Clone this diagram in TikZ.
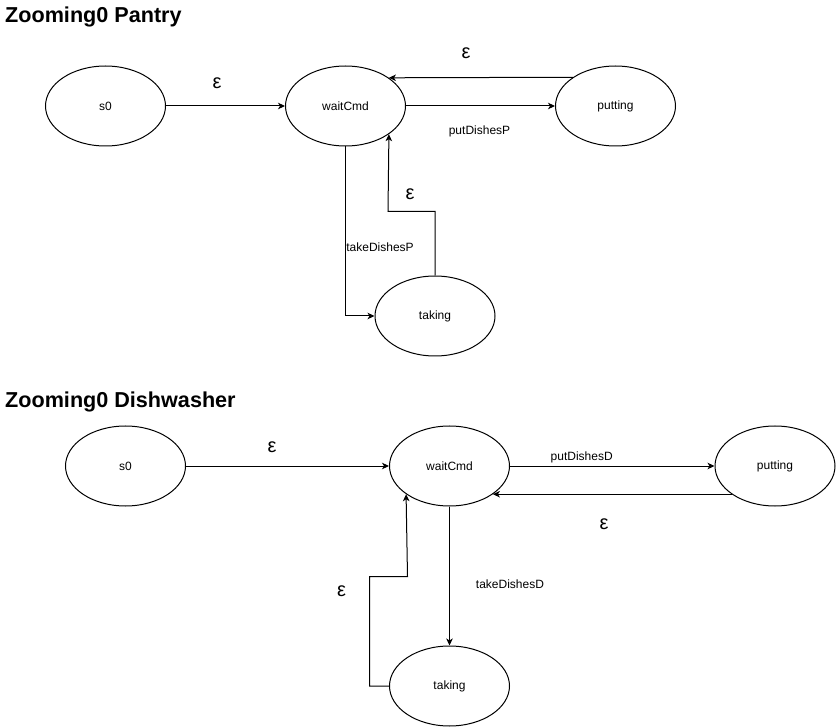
\documentclass[tikz,border=0pt]{standalone}
\usepackage{fontspec}
\setmainfont{Liberation Sans}
\usetikzlibrary{shapes.geometric,arrows.meta}
\begin{document}
\begin{tikzpicture}[x=1pt,y=-1pt,
  state/.style={draw,ellipse,line width=1pt,minimum width=120pt,minimum height=80pt,inner sep=0pt,font=\fontsize{12}{14}\selectfont},
  edge/.style={draw,line width=1pt,-{Stealth[length=7pt,width=6.5pt,inset=2pt]}},
  lab/.style={anchor=base,inner sep=0pt,font=\fontsize{12}{14}\selectfont},
  eps/.style={inner sep=0pt,font=\fontsize{20}{22}\selectfont},
  ttl/.style={anchor=base west,inner sep=0pt,font=\fontsize{21.6}{24}\selectfont\bfseries}]
\useasboundingbox[fill=white] (0,0) rectangle (836,727);

% ---- Pantry ----
\node[ttl] (t1) at (5,23) {Zooming0 Pantry};
\node[state] (s0a) at (105.5,106) {s0};
\node[state] (wa) at (345.5,106) {waitCmd};
\node[state] (pa) at (615.5,106) {putting};
\node[state] (ta) at (435,316) {taking};

\draw[edge] (s0a) -- (wa);
\draw[edge] (wa) -- (pa);
\draw[edge] (pa.146.6) -- (wa.33.4);
\draw[edge] (wa.south) |- (ta.west);
\coordinate (ka) at (388,211.5);
\draw[edge] (ta.north) |- (ka) -- (wa.-33.4);

\node[eps] (e1) at (217,83) {ε};
\node[eps] (e2) at (466,53.5) {ε};
\node[eps] (e3) at (410,194) {ε};
\node[lab] (l1) at (479.5,134.6) {putDishesP};
\node[lab] (l2) at (380,252) {takeDishesP};

% ---- Dishwasher ----
\node[ttl] (t2) at (5,408) {Zooming0 Dishwasher};
\node[state] (s0b) at (125.5,466) {s0};
\node[state] (wb) at (449.5,466) {waitCmd};
\node[state] (pb) at (775,466) {putting};
\node[state] (tb) at (449.5,686) {taking};

\draw[edge] (s0b) -- (wb);
\draw[edge] (wb) -- (pb);
\draw[edge] (pb.213.4) -- (wb.-33.4);
\draw[edge] (wb) -- (tb);
\coordinate (kb1) at (369.5,576.5);
\coordinate (kb2) at (407.5,576.5);
\draw[edge] (tb.west) -| (kb1) -- (kb2) -- (wb.213.4);

\node[eps] (e4) at (272,447.5) {ε};
\node[eps] (e5) at (604,524) {ε};
\node[eps] (e6) at (341.5,591.5) {ε};
\node[lab] (l3) at (581.7,460.5) {putDishesD};
\node[lab] (l4) at (510,588) {takeDishesD};
\end{tikzpicture}
\end{document}
